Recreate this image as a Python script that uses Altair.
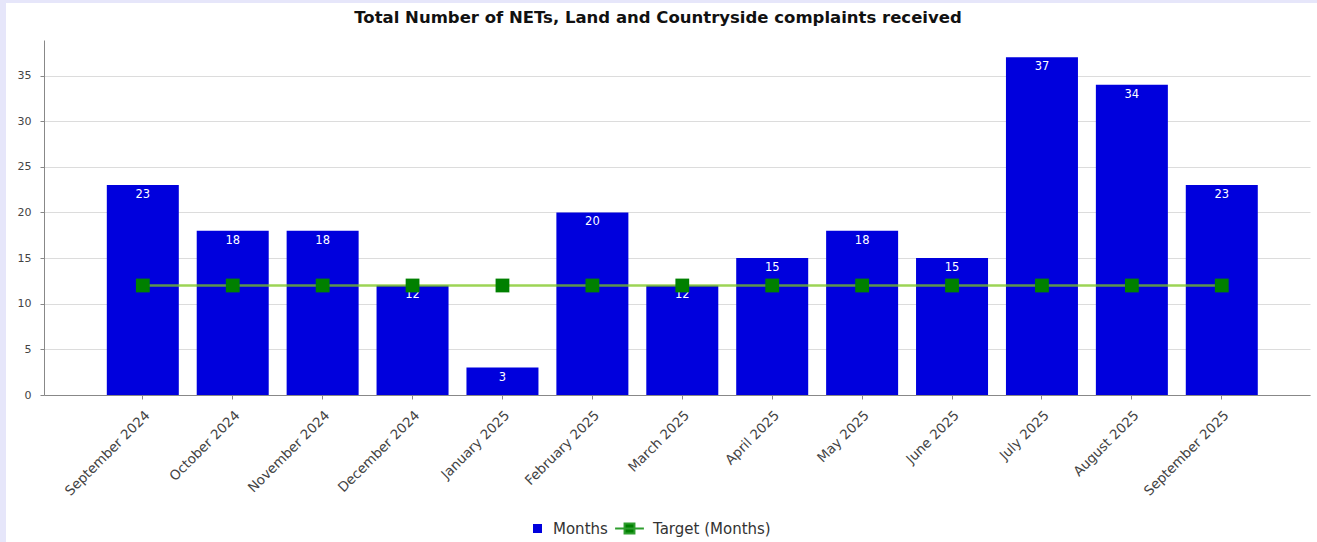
import altair as alt
import pandas as pd

TITLE = "Total Number of NETs, Land and Countryside complaints received"
months = ["September 2024", "October 2024", "November 2024", "December 2024",
          "January 2025", "February 2025", "March 2025", "April 2025",
          "May 2025", "June 2025", "July 2025", "August 2025", "September 2025"]
counts = [23, 18, 18, 12, 3, 20, 12, 15, 18, 15, 37, 34, 23]
target = [12] * 13
y_ticks = [0, 5, 10, 15, 20, 25, 30, 35]

df = pd.DataFrame({"month": months, "count": counts, "target": target,
                   "s1": ["Months"] * 13, "s2": ["Target (Months)"] * 13})

W, H = 1266, 355
FONT = "DejaVu Sans"

x = alt.X("month:N", sort=months, title=None,
          scale=alt.Scale(paddingInner=0.2, paddingOuter=0.64, align=0.546),
          axis=alt.Axis(labelAngle=-45, labelAlign="right", labelBaseline="top",
                        labelPadding=9, labelFont=FONT, labelFontSize=13.5,
                        labelColor="#444", tickColor="#888", tickSize=4,
                        domainColor="#888", labelOverlap=False))
y = alt.Y("count:Q", title=None,
          scale=alt.Scale(domain=[0, 38.9], nice=False),
          axis=alt.Axis(values=y_ticks, labelFont=FONT, labelFontSize=11,
                        labelColor="#444", tickColor="#888", tickSize=4,
                        domainColor="#888", gridColor="#dcdcdc", labelPadding=9))

base = alt.Chart(df)

# thin lavender frame at the left and top edges of the page
frame_left = base.mark_rect(color="#e6e6fa").encode(
    x=alt.value(-44), x2=alt.value(-38), y=alt.value(-40), y2=alt.value(H + 147))
frame_top = base.mark_rect(color="#e6e6fa").encode(
    x=alt.value(-44), x2=alt.value(W + 7), y=alt.value(-40), y2=alt.value(-37))

title = alt.Chart(pd.DataFrame({"t": [TITLE]})).mark_text(
    font=FONT, fontSize=16.5, fontWeight="bold", color="#111",
    align="center", baseline="middle").encode(
    x=alt.value(614), y=alt.value(-22), text="t:N")

bars = base.mark_bar(size=72).encode(
    x=x, y=y,
    color=alt.Color("s1:N", scale=alt.Scale(domain=["Months"], range=["#0000dd"]),
                    legend=alt.Legend(title=None, orient="none", legendX=486, legendY=481,
                                      symbolType="square", symbolSize=81,
                                      symbolFillColor="#0000aa", labelOffset=8,
                                      labelFont=FONT, labelFontSize=15, labelColor="#333")))

labels = base.mark_text(baseline="top", dy=4, color="white", font=FONT, fontSize=11.5).encode(
    x=alt.X("month:N", sort=months), y=alt.Y("count:Q"), text="count:Q")

line = base.mark_line(color="#7cc51c", strokeWidth=2.5, opacity=0.75).encode(
    x=alt.X("month:N", sort=months), y=alt.Y("target:Q"))

pts = base.mark_square(size=190, opacity=1).encode(
    x=alt.X("month:N", sort=months), y=alt.Y("target:Q"),
    color=alt.Color("s2:N", scale=alt.Scale(domain=["Target (Months)"], range=["#008000"]),
                    legend=alt.Legend(title=None, orient="none", legendX=578, legendY=481,
                                      symbolType="M-3.2,0H3.2M-1.1,-1.1H1.1V1.1H-1.1Z",
                                      symbolSize=81, symbolStrokeColor="#2e9e2e",
                                      symbolStrokeWidth=2, labelOffset=16,
                                      labelFont=FONT, labelFontSize=15, labelColor="#333")))

chart = alt.layer(bars, labels, line, pts, frame_left, frame_top, title).resolve_scale(
    color="independent").properties(
    width=W, height=H,
    autosize=alt.AutoSizeParams(type="none"),
    padding={"left": 44, "top": 40, "right": 7, "bottom": 147},
    background="white",
).configure_view(stroke=None)

chart.save("out.html", embed_options={"renderer": "svg", "actions": False})
